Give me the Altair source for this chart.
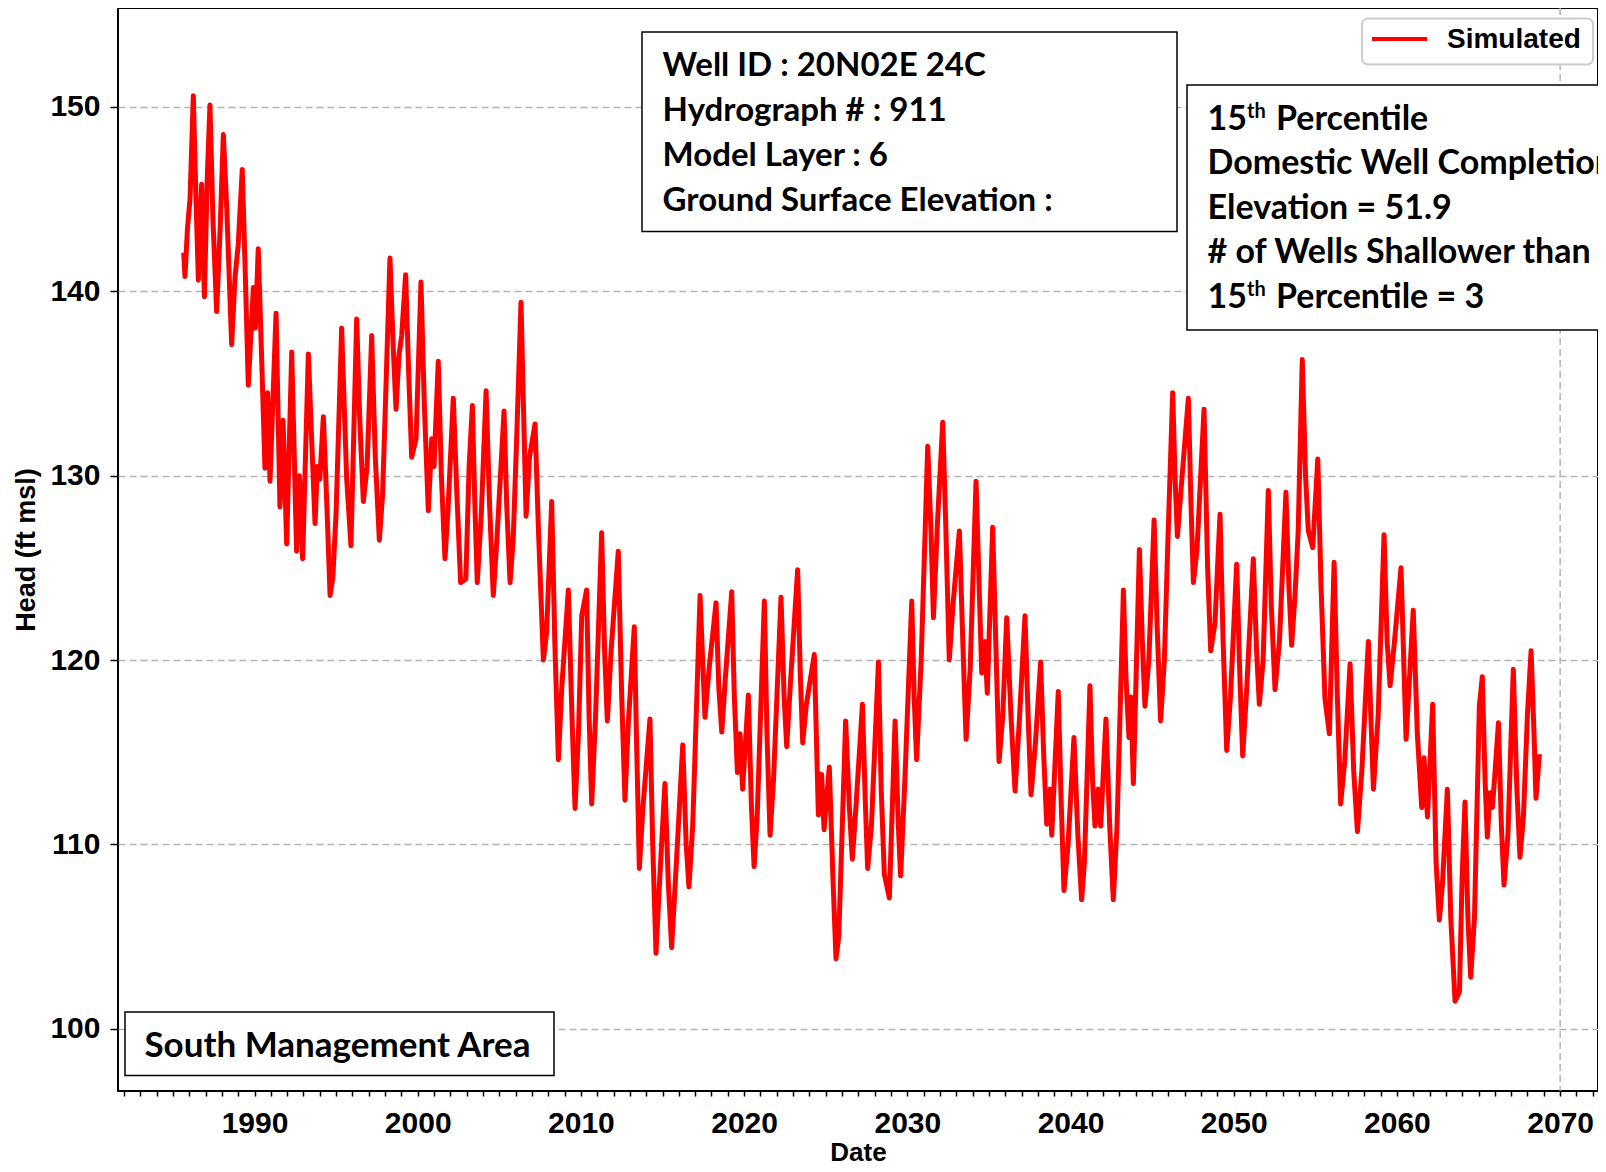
import altair as alt
import pandas as pd

# ---------------- data ----------------
years = [
    1985.66, 1985.74, 1985.9, 1986.05, 1986.25, 1986.4, 1986.56, 1986.76, 1986.93, 1987.1,
    1987.27, 1987.45, 1987.68, 1987.9, 1988.09, 1988.3, 1988.6, 1988.81, 1989.0, 1989.25,
    1989.45, 1989.62, 1989.93, 1990.05, 1990.23, 1990.45, 1990.64, 1990.8, 1990.95, 1991.32,
    1991.56, 1991.75, 1991.97, 1992.28, 1992.58, 1992.75, 1992.95, 1993.3, 1993.5, 1993.71,
    1993.85, 1994.0, 1994.22, 1994.45, 1994.63, 1994.8, 1995.0, 1995.34, 1995.65, 1995.91,
    1996.26, 1996.45, 1996.67, 1996.9, 1997.18, 1997.4, 1997.65, 1997.85,
    1998.3, 1998.5, 1998.67, 1998.85, 1999.02, 1999.26, 1999.45, 1999.63, 1999.9, 2000.2,
    2000.4, 2000.65, 2000.86, 2001.0, 2001.26, 2001.45, 2001.67, 2001.85, 2002.18, 2002.4,
    2002.63, 2002.95, 2003.15, 2003.35, 2003.5, 2003.65, 2003.9, 2004.19, 2004.4, 2004.63,
    2004.85, 2005.29, 2005.45, 2005.66, 2005.85, 2006.1, 2006.33, 2006.5, 2006.64, 2006.85,
    2007.19, 2007.4, 2007.7, 2007.9,
    2008.21, 2008.4, 2008.62, 2008.82, 2009.23, 2009.45, 2009.64, 2009.85, 2010.05, 2010.35,
    2010.5, 2010.66, 2010.9, 2011.27, 2011.45, 2011.62, 2011.85, 2012.29, 2012.5, 2012.7,
    2012.9, 2013.27, 2013.4, 2013.58, 2013.8, 2014.23, 2014.4, 2014.6, 2014.85, 2015.15,
    2015.35, 2015.56, 2015.85, 2016.24, 2016.45, 2016.62, 2016.85, 2017.3, 2017.6, 2017.85,
    2018.28,
    2018.45, 2018.63, 2018.85, 2019.24, 2019.4, 2019.59, 2019.75, 2019.91, 2020.26, 2020.45,
    2020.61, 2020.8, 2021.24, 2021.4, 2021.59, 2021.8, 2022.26, 2022.45, 2022.61, 2022.8,
    2023.28, 2023.45, 2023.59, 2023.8, 2024.3, 2024.55, 2024.75, 2024.9, 2025.22, 2025.45,
    2025.63, 2025.8, 2026.22, 2026.45, 2026.63, 2026.85, 2027.25, 2027.42, 2027.57, 2027.8,
    2028.23, 2028.4, 2028.59, 2028.9,
    2029.25, 2029.45, 2029.59, 2029.85, 2030.27, 2030.42, 2030.57, 2030.85, 2031.25, 2031.45,
    2031.6, 2031.85, 2032.17, 2032.35, 2032.57, 2032.8, 2033.19, 2033.4, 2033.6, 2033.85,
    2034.21, 2034.4, 2034.56, 2034.75, 2034.9, 2035.23, 2035.45, 2035.62, 2035.85, 2036.09,
    2036.35, 2036.6, 2036.85, 2037.21, 2037.4, 2037.58, 2037.85, 2038.17, 2038.35, 2038.54,
    2038.75, 2038.85, 2039.25, 2039.42, 2039.6, 2039.85, 2040.21, 2040.45, 2040.68, 2040.85,
    2041.19, 2041.35, 2041.5, 2041.7, 2041.85, 2042.17, 2042.4, 2042.62, 2042.85, 2043.24,
    2043.4, 2043.58, 2043.7, 2043.85, 2044.22, 2044.4, 2044.56, 2044.8, 2045.12, 2045.3,
    2045.52, 2045.75, 2045.95, 2046.26, 2046.4, 2046.55, 2046.75, 2047.22, 2047.38, 2047.53,
    2047.75, 2048.18, 2048.4, 2048.59, 2048.85, 2049.16, 2049.35, 2049.57, 2049.8, 2050.18,
    2050.38, 2050.55, 2050.8, 2051.2, 2051.4, 2051.57, 2051.8, 2052.12, 2052.3, 2052.53,
    2052.8, 2053.2, 2053.38, 2053.55, 2053.76, 2053.95, 2054.2, 2054.4, 2054.57, 2054.84,
    2055.15, 2055.35, 2055.59, 2055.86, 2056.15, 2056.35, 2056.55, 2056.8, 2057.13, 2057.35,
    2057.58, 2057.85, 2058.25, 2058.4, 2058.56, 2058.85, 2059.21, 2059.4, 2059.58, 2059.85,
    2060.25, 2060.56, 2060.8, 2061.0, 2061.25, 2061.52, 2061.66, 2061.87, 2062.19, 2062.4,
    2062.6, 2062.8, 2063.09, 2063.3, 2063.56, 2063.83, 2064.0, 2064.17, 2064.35, 2064.52,
    2064.75, 2065.05, 2065.23, 2065.4, 2065.54, 2065.7, 2065.85, 2066.01, 2066.22, 2066.4,
    2066.56, 2066.8, 2067.13, 2067.35, 2067.54, 2067.75, 2068.0, 2068.22, 2068.4, 2068.52,
    2068.73,
]
head = [
    142.1, 140.8, 143.5, 145.0, 150.6, 145.5, 140.6, 145.8, 139.7, 146.0,
    150.1, 144.0, 138.9, 143.5, 148.5, 144.5, 137.1, 140.8, 142.5, 146.6,
    140.5, 134.9, 140.2, 138.0, 142.3, 136.0, 130.4, 134.5, 129.7, 138.8,
    128.3, 133.0, 126.3, 136.7, 125.9, 130.0, 125.5, 136.6, 132.0, 127.4,
    130.5, 129.8, 133.2, 128.0, 123.5, 124.5, 128.0, 138.0, 129.8, 126.2,
    138.5, 133.0, 128.6, 130.5, 137.6, 131.0, 126.5, 129.0,
    141.8, 137.0, 133.6, 136.5, 137.6, 140.9, 135.5, 131.0, 132.0, 140.5,
    134.0, 128.1, 132.0, 130.5, 136.2, 130.0, 125.5, 128.0, 134.2, 129.0,
    124.2, 124.4, 130.5, 133.8, 128.5, 124.2, 128.0, 134.6, 128.5, 123.5,
    126.5, 133.5, 128.5, 124.2, 126.5, 133.0, 139.4, 133.0, 127.8, 131.0,
    132.8, 127.0, 120.0, 121.5,
    128.6, 121.0, 114.6, 118.4, 123.8, 117.0, 111.95, 116.0, 122.4, 123.8,
    117.0, 112.2, 117.0, 126.9, 120.5, 116.7, 120.5, 125.9, 118.0, 112.4,
    116.5, 121.8, 116.0, 108.7, 112.0, 116.8, 110.0, 104.1, 108.5, 113.3,
    108.0, 104.4, 109.0, 115.4, 110.0, 107.7, 111.0, 123.5, 116.9, 119.5,
    123.1,
    118.5, 116.1, 119.0, 123.7, 118.0, 113.9, 116.0, 113.0, 118.1, 112.0,
    108.8, 111.5, 123.2, 116.0, 110.5, 113.5, 123.4, 118.0, 115.3, 118.2,
    124.9, 119.0, 115.5, 117.5, 120.3, 111.6, 113.8, 110.8, 114.2, 108.0,
    103.8, 105.0, 116.7, 112.0, 109.2, 112.0, 117.6, 112.5, 108.7, 111.0,
    119.9, 113.0, 108.4, 107.1,
    116.7, 111.0, 108.3, 113.5, 123.2, 118.0, 114.6, 120.0, 131.6, 127.0,
    122.3, 127.5, 132.9, 127.5, 120.0, 123.0, 127.0, 121.0, 115.7, 119.5,
    129.7, 124.0, 119.3, 121.0, 118.2, 127.2, 120.0, 114.5, 117.0, 122.3,
    117.0, 112.9, 116.5, 122.4, 117.0, 112.7, 115.5, 119.9, 115.0, 111.1,
    113.0, 110.5, 118.3, 112.5, 107.5, 110.0, 115.8, 110.5, 107.0, 109.0,
    118.6, 113.5, 111.0, 113.0, 111.0, 116.8, 111.0, 107.0, 111.0, 123.8,
    119.0, 115.8, 118.0, 113.3, 126.0, 121.0, 117.5, 120.0, 127.6, 122.0,
    116.7, 120.0, 126.0, 134.5, 130.0, 126.7, 129.0, 134.2, 128.5, 124.2,
    126.0, 133.6, 125.0, 120.5, 122.0, 127.9, 121.0, 115.1, 118.0, 125.2,
    119.0, 114.8, 118.5, 125.5, 120.5, 117.6, 120.0, 129.2, 123.0, 118.4,
    121.0, 129.1, 124.0, 120.8, 123.6, 127.0, 136.3, 130.0, 127.0, 126.1,
    130.9, 124.0, 117.9, 116.0, 125.3, 118.0, 112.2, 114.5, 119.8, 114.0,
    110.7, 114.0, 121.0, 117.0, 113.0, 117.0, 126.8, 121.0, 118.6, 121.0,
    125.0, 115.7, 119.5, 122.7, 116.0, 112.0, 114.7, 111.5, 117.6, 109.0,
    105.9, 108.0, 113.0, 106.0, 101.5, 102.0, 108.4, 112.3, 106.0, 102.8,
    106.0, 117.5, 119.1, 113.5, 110.4, 112.8, 112.0, 113.9, 116.6, 111.0,
    107.8, 110.5, 119.5, 113.0, 109.3, 111.5, 117.1, 120.5, 116.0, 112.5,
    114.9,
]
series_name = "Simulated"
y_tick_values = [100, 110, 120, 130, 140, 150]
x_tick_years = list(range(1982, 2073))
vertical_grid_years = [2070]
well_info_lines = ["Well ID : 20N02E 24C", "Hydrograph # : 911", "Model Layer : 6",
                   "Ground Surface Elevation :"]
pct_ordinal = ["15", "th"]
pct_line1 = "Percentile"
pct_middle_lines = ["Domestic Well Completion", "Elevation = 51.9", "# of Wells Shallower than"]
pct_line5 = "Percentile = 3"
area_label = "South Management Area"

# ---------------- layout ----------------
W, H = 1480, 1083
AXIS_FONT = "Liberation Sans"
BOX_FONT = "Lato"
BOX_SIZE = 34

df = pd.DataFrame({"Date": years, "Head": head, "Series": series_name})
vdf = pd.DataFrame({"Date": vertical_grid_years})
one = pd.DataFrame({"k": [0]})

x_scale = alt.Scale(domain=[1981.636, 2072.32], nice=False, zero=False)
y_scale = alt.Scale(domain=[96.63, 155.36], nice=False, zero=False)

x_axis = alt.Axis(
    values=x_tick_years, format="d",
    labelExpr="datum.value % 10 == 0 ? datum.label : ''",
    labelOverlap=False, labelFlush=False, labelBound=False,
    grid=False, domain=False, tickColor="black", tickSize=5, tickWidth=1.5,
    labelFont=AXIS_FONT, labelFontSize=30, labelFontWeight="bold", labelColor="black",
    labelPadding=12, title="Date", titleFont=AXIS_FONT, titleFontSize=26,
    titleFontWeight="bold", titleColor="black", titleY=61, titleBaseline="middle",
)
y_axis = alt.Axis(
    values=y_tick_values, format="d", grid=True, gridColor="#b3b3b3", gridDash=[7, 4],
    gridWidth=1.5, domain=False, tickColor="black", tickSize=8, tickWidth=1.5,
    labelFont=AXIS_FONT, labelFontSize=30, labelFontWeight="bold", labelColor="black",
    labelPadding=10, title="Head (ft msl)", titleFont=AXIS_FONT, titleFontSize=27,
    titleFontWeight="bold", titleColor="black", titleX=-92, titleY=H / 2,
    titleAngle=270, titleAlign="center", titleBaseline="middle",
)

vline = alt.Chart(vdf).mark_rule(color="#b3b3b3", strokeDash=[7, 4], strokeWidth=1.5).encode(
    x=alt.X("Date:Q", scale=x_scale, axis=x_axis)
)

line = alt.Chart(df).mark_line(strokeWidth=5, strokeJoin="round").encode(
    x=alt.X("Date:Q", scale=x_scale, axis=x_axis),
    y=alt.Y("Head:Q", scale=y_scale, axis=y_axis),
    color=alt.Color("Series:N", scale=alt.Scale(domain=[series_name], range=["#ff0000"]),
                    legend=None),
)


def box(x, x2, y, y2, stroke="black", radius=0, sw=1.5):
    return alt.Chart(one).mark_rect(fill="white", stroke=stroke, strokeWidth=sw,
                                    cornerRadius=radius, clip=True).encode(
        x=alt.value(x), x2=alt.value(x2), y=alt.value(y), y2=alt.value(y2))


def label(txt, x, y, size=BOX_SIZE, font=BOX_FONT):
    return alt.Chart(one).mark_text(text=txt, font=font, fontSize=size, fontWeight="bold",
                                    color="black", align="left", baseline="alphabetic",
                                    clip=True).encode(x=alt.value(x), y=alt.value(y))


layers = [vline, line]

# well info box
layers.append(box(524, 1059, 24, 223.5))
for i, t in enumerate(well_info_lines):
    layers.append(label(t, 544.6, 68 + 45 * i, size=33))

# percentile box
layers.append(box(1069, 1700, 77, 322))
pct_base = [122, 166, 211, 255, 300]
layers.append(label(pct_ordinal[0], 1089.5, pct_base[0]))
layers.append(label(pct_ordinal[1], 1129, pct_base[0] - 12, size=20))
layers.append(label(pct_line1, 1158, pct_base[0]))
for i, t in enumerate(pct_middle_lines):
    layers.append(label(t, 1089.5, pct_base[i + 1]))
layers.append(label(pct_ordinal[0], 1089.5, pct_base[4]))
layers.append(label(pct_ordinal[1], 1129, pct_base[4] - 12, size=20))
layers.append(label(pct_line5, 1158, pct_base[4]))

# area box
layers.append(box(7, 436, 1004, 1067.5))
layers.append(label(area_label, 26.4, 1049, size=35))

# legend
layers.append(box(1244, 1475, 10.4, 56.5, stroke="#cccccc", radius=6, sw=2))
layers.append(alt.Chart(one).mark_rule(color="#ff0000", strokeWidth=4).encode(
    x=alt.value(1254), x2=alt.value(1309), y=alt.value(31)))
layers.append(alt.Chart(one).mark_text(text=series_name, font=AXIS_FONT, fontSize=28,
                                       fontWeight="bold", color="black", align="left",
                                       baseline="middle").encode(
    x=alt.value(1329), y=alt.value(32)))

chart = alt.layer(*layers).properties(
    width=W, height=H,
    padding={"left": 110, "top": 0, "right": 0, "bottom": 78},
    autosize=alt.AutoSizeParams(type="none"),
    background="white",
).configure_view(stroke="black", strokeWidth=2)

chart.save("out.html", embed_options={"renderer": "svg", "actions": False})
